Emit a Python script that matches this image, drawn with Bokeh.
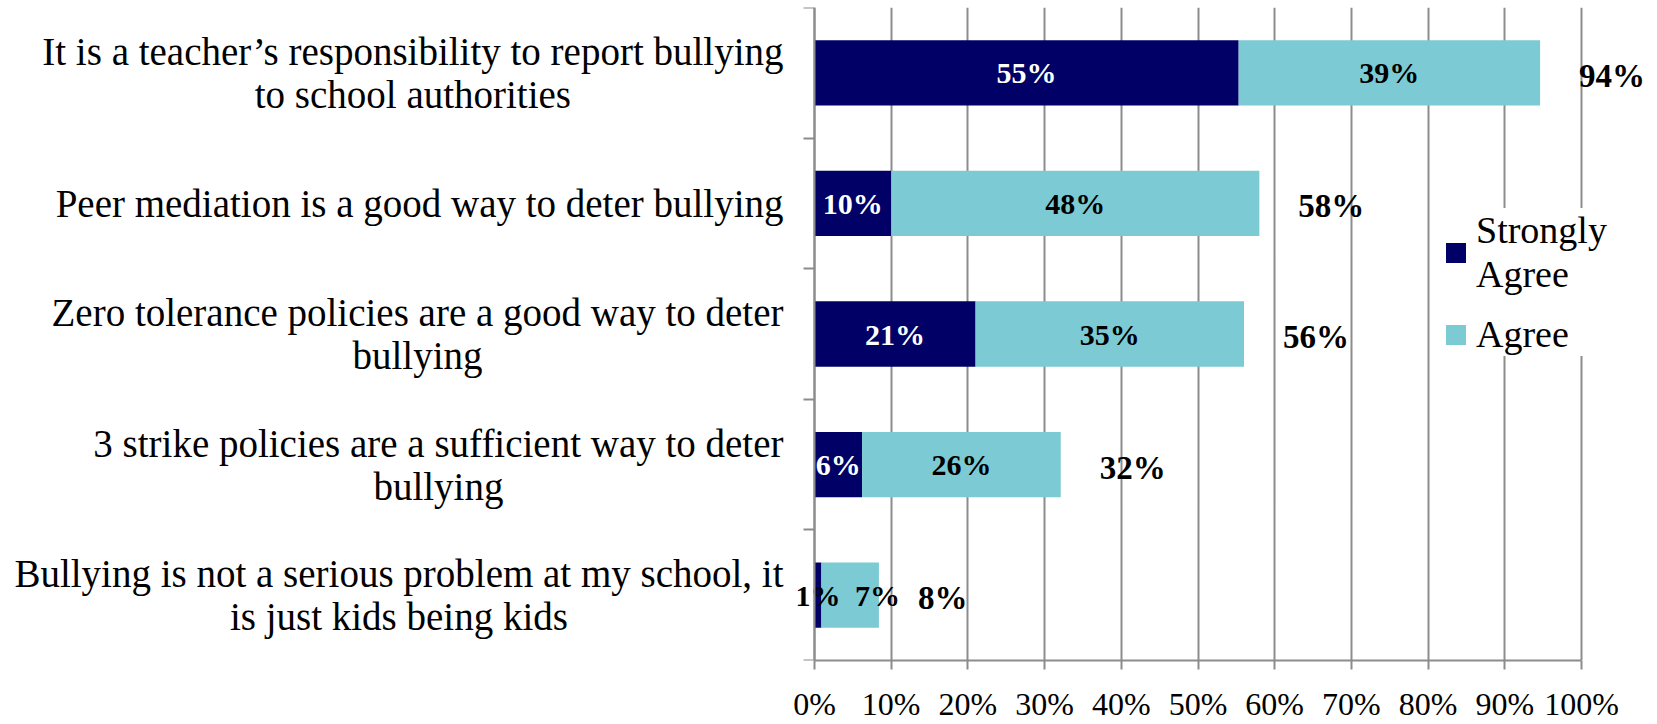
import numpy as np
from bokeh.plotting import figure
from bokeh.models import (ColumnDataSource, Range1d, FixedTicker, Label, LabelSet,
                          Legend, LegendItem)
from bokeh.core.properties import value
from bokeh.embed import file_html
from bokeh.resources import INLINE

# ---------------- data ----------------
categories = [
    "It is a teacher\u2019s responsibility to report bullying\nto school authorities",
    "Peer mediation is a good way to deter bullying",
    "Zero tolerance policies are a good way to deter\nbullying",
    "3 strike policies are a sufficient way to deter\nbullying",
    "Bullying is not a serious problem at my school, it\nis just kids being kids",
]
strongly_agree = [55.3, 10.0, 21.0, 6.2, 0.9]
agree = [39.3, 48.0, 35.0, 25.9, 7.5]
sa_labels = ["55%", "10%", "21%", "6%", "1%"]
agree_labels = ["39%", "48%", "35%", "26%", "7%"]
total_labels = ["94%", "58%", "56%", "32%", "8%"]
x_ticks = [0, 10, 20, 30, 40, 50, 60, 70, 80, 90, 100]
x_tick_labels = ["0%", "10%", "20%", "30%", "40%", "50%", "60%", "70%", "80%", "90%", "100%"]
series_names = ["Strongly\nAgree", "Agree"]

NAVY = "#000066"
TEAL = "#7CCAD3"
GRAY = "#8C8C8C"
FONT = "Liberation Serif"

n = len(categories)
sa = np.array(strongly_agree)
ag = np.array(agree)
tot = sa + ag
yc = n - 0.5 - np.arange(n)

sa_text_color = ["white" if v >= 3 else "black" for v in sa]
ag_x = np.maximum(sa + ag / 2, sa + 7.3)

src = ColumnDataSource(dict(
    y=yc, sa=sa, tot=tot, sa_x=sa / 2, ag_x=ag_x,
    sa_lbl=sa_labels, ag_lbl=agree_labels, tot_lbl=total_labels,
    sa_col=sa_text_color,
))

# ---------------- layout ----------------
W, H = 1657, 724
PX0, PX100 = 814.0, 1581.0        # screen position of 0% and 100%
ppu = (PX100 - PX0) / 100.0
x_lo = -PX0 / ppu
x_hi = 100 + (W - PX100) / ppu
TOP, BOTTOM = 7, 61

p = figure(width=W, height=H, x_range=Range1d(x_lo, x_hi), y_range=Range1d(0, n),
           toolbar_location=None, output_backend="svg",
           min_border_left=0, min_border_right=0,
           min_border_top=TOP, min_border_bottom=BOTTOM)
p.outline_line_color = None
p.background_fill_color = "white"
p.border_fill_color = "white"

# grid (only 0..100)
p.ygrid.visible = False
p.xgrid.ticker = FixedTicker(ticks=x_ticks)
p.xgrid.grid_line_color = GRAY
p.xgrid.grid_line_width = 2

# x axis
p.xaxis.bounds = (0, 100)
p.xaxis.ticker = FixedTicker(ticks=x_ticks)
p.xaxis.major_label_overrides = {t: l for t, l in zip(x_ticks, x_tick_labels)}
p.xaxis.axis_line_color = GRAY
p.xaxis.axis_line_width = 2
p.xaxis.major_tick_line_color = GRAY
p.xaxis.major_tick_line_width = 2
p.xaxis.major_tick_out = 9
p.xaxis.major_tick_in = 0
p.xaxis.minor_tick_line_color = None
p.xaxis.major_label_text_font = FONT
p.xaxis.major_label_text_font_size = "32px"
p.xaxis.major_label_text_color = "black"
p.xaxis.major_label_standoff = 16

# y axis at x = 0, ticks at category boundaries only
p.yaxis.fixed_location = 0
p.yaxis.ticker = FixedTicker(ticks=[], minor_ticks=list(range(n + 1)))
p.yaxis.axis_line_color = GRAY
p.yaxis.axis_line_width = 2
p.yaxis.major_tick_line_color = None
p.yaxis.minor_tick_line_color = GRAY
p.yaxis.minor_tick_line_width = 2
p.yaxis.minor_tick_out = 11
p.yaxis.minor_tick_in = 0
p.yaxis.major_label_text_font_size = "0px"

# bars
r1 = p.hbar(y="y", left=0, right="sa", height=0.5, source=src,
            fill_color=NAVY, line_color=None)
r2 = p.hbar(y="y", left="sa", right="tot", height=0.5, source=src,
            fill_color=TEAL, line_color=None)

# segment labels
p.text(x="sa_x", y="y", text="sa_lbl", source=src, text_color="sa_col",
       text_font=value(FONT), text_font_style="bold", text_font_size="30px",
       text_align="center", text_baseline="middle")
p.text(x="ag_x", y="y", text="ag_lbl", source=src, text_color="black",
       text_font=value(FONT), text_font_style="bold", text_font_size="30px",
       text_align="center", text_baseline="middle")

# totals
p.add_layout(LabelSet(x="tot", y="y", text="tot_lbl", source=src,
                      x_offset=39, y_offset=-3, text_align="left",
                      text_baseline="middle", text_font=value(FONT),
                      text_font_style="bold", text_font_size="33px",
                      text_color="black"))

# category labels
for cat, y in zip(categories, yc):
    p.add_layout(Label(x=0, y=y, x_units="data", y_units="data", x_offset=-31,
                       text=cat, anchor="center_right", text_align="center",
                       text_baseline="middle", text_font=FONT,
                       text_font_size="39px", text_line_height=1.0,
                       text_color="black"))

legend = Legend(items=[LegendItem(label=series_names[0], renderers=[r1]),
                       LegendItem(label=series_names[1], renderers=[r2])],
                location=(1443, 304))
legend.label_text_font = FONT
legend.label_text_font_size = "38px"
legend.label_text_line_height = 1.3
legend.label_text_color = "black"
legend.glyph_width = 25
legend.glyph_height = 25
legend.label_standoff = 8
legend.spacing = 16
legend.padding = 20
legend.margin = 0
legend.border_line_color = None
legend.background_fill_color = "white"
legend.background_fill_alpha = 1.0
p.add_layout(legend)

open("out.html", "w").write(file_html(p, INLINE))
